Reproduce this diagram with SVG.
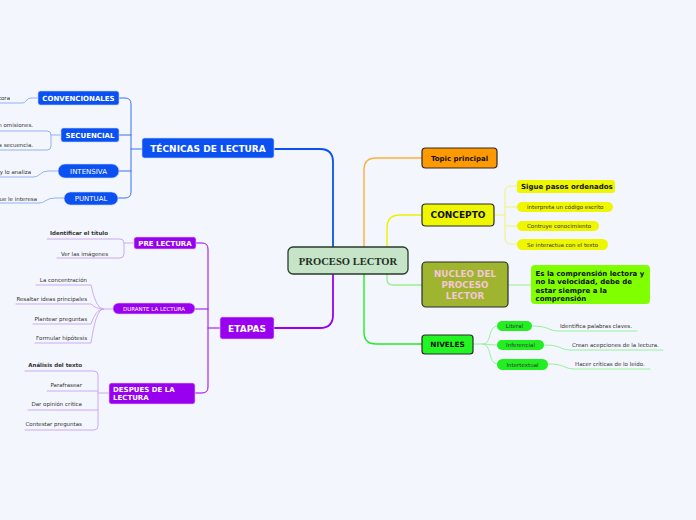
<svg xmlns="http://www.w3.org/2000/svg" width="696" height="520" viewBox="0 0 696 520">
<style>
text{font-family:"DejaVu Sans",Verdana,sans-serif}
.b{font-weight:bold}
.w{fill:#fff}
.k{fill:#111}
.leaf{fill:#333;font-size:5.5px}
.ln{fill:none;stroke-linecap:round;stroke-linejoin:round}
.dk{stroke:#2b2b2b;stroke-width:1.2}
</style>
<rect width="696" height="520" fill="#f3f6fd"/>
<g id="connectors" class="ln">
  <path d="M333 247V162Q333 149 320 149H275" stroke="#0b50f0" stroke-width="1.8"/>
  <path d="M333 274V315Q333 328 320 328H274" stroke="#9900ef" stroke-width="1.8"/>
  <path d="M364 247V170Q364 158 376 158H422" stroke="#ffae3a" stroke-width="1.4"/>
  <path d="M387 247V228Q387 215 400 215H422" stroke="#eef000" stroke-width="1.4"/>
  <path d="M387 274V279Q387 285 393 285H422" stroke="#9cee8c" stroke-width="1.4"/>
  <path d="M364 274V332Q364 344 376 344H422" stroke="#22ee22" stroke-width="1.4"/>
  <g stroke="#3a70f2" stroke-width="1">
    <path d="M142 149H131M119 98H125Q131 98 131 104V192Q131 198 125 198H118M119 135H131M119 171H131"/>
  </g>
  <g stroke="#8aa8f5" stroke-width="0.9">
    <path d="M38 98H31Q28 98 26 101Q25 103 22 103H0"/>
    <path d="M0 131H47Q51 131 51 135V146Q51 150 47 150H0M51 135H61"/>
    <path d="M58 171H48Q43 171 39 175Q37 177 33 177H0"/>
    <path d="M64 198H55Q49 198 45 201Q43 203 39 203H0"/>
  </g>
  <g stroke="#9900ef" stroke-width="1">
    <path d="M220 328H208M196 243H202Q208 243 208 249V387Q208 393 202 393H195M195 309H208"/>
  </g>
  <g stroke="#c9a2f4" stroke-width="0.9">
    <path d="M134 243H124M47 239H120Q124 239 124 243V254Q124 258 120 258H57"/>
    <path d="M113 309H103"/>
    <path d="M103 309Q96 309 91 285H36"/>
    <path d="M103 309Q96 309 91 304H16"/>
    <path d="M103 309Q96 309 91 324H33"/>
    <path d="M103 309Q96 309 91 343H35"/>
    <path d="M109 393H98M25 371H94Q98 371 98 375V426Q98 430 94 430H25M47 391H98M28 410H98"/>
  </g>
  <g stroke="#f2f27a" stroke-width="1">
    <path d="M494 215H505M517 186H511Q505 186 505 192V238Q505 244 511 244H517M505 207H517M505 226H517"/>
  </g>
  <path d="M508 285H531" stroke="#9cee8c" stroke-width="1"/>
  <g stroke="#8ff08f" stroke-width="0.9">
    <path d="M473 344H483Q488 344 490 335Q492 326 497 326"/>
    <path d="M483 344Q490 345 497 345"/>
    <path d="M483 344Q488 344 490 354Q492 364 497 364"/>
    <path d="M532 326Q544 326 549 329Q553 331 558 331H637"/>
    <path d="M544 345Q556 345 561 348Q565 350 570 350H663"/>
    <path d="M548 364Q560 364 565 367Q569 369 574 369H650"/>
  </g>
</g>
<g id="center">
  <rect x="288" y="247" width="120" height="27" rx="5" fill="#c6e4c8" stroke="#2a3a2c" stroke-width="1.3"/>
  <text x="348" y="264.5" text-anchor="middle" font-family="'Liberation Serif',serif" style="font-family:'Liberation Serif',serif" font-size="10.6" font-weight="bold" fill="#1d2e1f">PROCESO LECTOR</text>
</g>
<g id="tecnicas">
  <rect x="142" y="138" width="132" height="20" rx="2.5" fill="#0b50f0" stroke="#c8d6fb" stroke-width="0.6"/>
  <text x="208" y="151.5" text-anchor="middle" class="b w" font-size="9">TÉCNICAS DE LECTURA</text>
</g>
<g id="convencionales">
  <rect x="38" y="91" width="81" height="14" rx="2.5" fill="#0b50f0" stroke="#c8d6fb" stroke-width="0.6"/>
  <text x="78.5" y="100.5" text-anchor="middle" class="b w" font-size="7">CONVENCIONALES</text>
  <text x="10" y="100" text-anchor="end" class="leaf">tora</text>
</g>
<g id="secuencial">
  <rect x="61" y="128" width="58" height="14" rx="2.5" fill="#0b50f0" stroke="#c8d6fb" stroke-width="0.6"/>
  <text x="90" y="137.5" text-anchor="middle" class="b w" font-size="7">SECUENCIAL</text>
  <text x="33" y="127" text-anchor="end" class="leaf">n omisiones.</text>
  <text x="33" y="147" text-anchor="end" class="leaf">a secuencia.</text>
</g>
<g id="intensiva">
  <rect x="58" y="164" width="61" height="14" rx="7" fill="#0b50f0" stroke="#c8d6fb" stroke-width="0.6"/>
  <text x="88.5" y="173.5" text-anchor="middle" class="w" font-size="7">INTENSIVA</text>
  <text x="31" y="174" text-anchor="end" class="leaf">y lo analiza</text>
</g>
<g id="puntual">
  <rect x="64" y="192" width="54" height="13" rx="6.5" fill="#0b50f0" stroke="#c8d6fb" stroke-width="0.6"/>
  <text x="91" y="201" text-anchor="middle" class="w" font-size="7">PUNTUAL</text>
  <text x="37" y="201" text-anchor="end" class="leaf">ue le interesa</text>
</g>
<g id="etapas">
  <rect x="220" y="317" width="54" height="22" rx="2.5" fill="#9900ef" stroke="#e2c6fb" stroke-width="0.6"/>
  <text x="247" y="331.5" text-anchor="middle" class="b w" font-size="9">ETAPAS</text>
</g>
<g id="prelectura">
  <rect x="134" y="237" width="62" height="12" rx="2.5" fill="#9900ef" stroke="#e2c6fb" stroke-width="0.6"/>
  <text x="165" y="245.5" text-anchor="middle" class="b w" font-size="7">PRE LECTURA</text>
  <text x="108" y="235" text-anchor="end" class="leaf b" fill="#111">Identificar el título</text>
  <text x="108" y="256" text-anchor="end" class="leaf">Ver las imágenes</text>
</g>
<g id="durante">
  <rect x="113" y="303" width="82" height="11" rx="5.5" fill="#9900ef" stroke="#e2c6fb" stroke-width="0.6"/>
  <text x="154" y="310.8" text-anchor="middle" class="w" font-size="5.5">DURANTE LA LECTURA</text>
  <text x="87" y="282" text-anchor="end" class="leaf">La concentración</text>
  <text x="87" y="301" text-anchor="end" class="leaf">Resaltar ideas principales</text>
  <text x="87" y="321" text-anchor="end" class="leaf">Plantear preguntas</text>
  <text x="87" y="340" text-anchor="end" class="leaf">Formular hipótesis</text>
</g>
<g id="despues">
  <rect x="109" y="383" width="86" height="21" rx="2.5" fill="#9900ef" stroke="#e2c6fb" stroke-width="0.6"/>
  <text x="113" y="391.5" class="b w" font-size="7">DESPUES DE LA</text>
  <text x="113" y="400" class="b w" font-size="7">LECTURA</text>
  <text x="82" y="367" text-anchor="end" class="leaf b" fill="#111">Análisis del texto</text>
  <text x="82" y="387" text-anchor="end" class="leaf">Parafrasear</text>
  <text x="82" y="406" text-anchor="end" class="leaf">Dar opinión crítica</text>
  <text x="82" y="426" text-anchor="end" class="leaf">Contestar preguntas</text>
</g>
<g id="topic">
  <rect x="422" y="148" width="75" height="20" rx="3.5" fill="#ff9900" class="dk"/>
  <text x="459.5" y="160.5" text-anchor="middle" class="b k" font-size="7">Topic principal</text>
</g>
<g id="concepto">
  <rect x="422" y="204" width="72" height="22" rx="3.5" fill="#eef600" class="dk"/>
  <text x="458" y="218.3" text-anchor="middle" class="b k" font-size="9">CONCEPTO</text>
</g>
<g id="sigue">
  <rect x="517" y="180" width="98" height="13" rx="3" fill="#eef600"/>
  <text x="521" y="189" class="b k" font-size="7">Sigue pasos ordenados</text>
</g>
<g id="interpreta">
  <rect x="517" y="202" width="96" height="10" rx="5" fill="#eef600"/>
  <text x="527" y="209" class="leaf">interpreta un código escrito</text>
</g>
<g id="contruye">
  <rect x="517" y="221" width="82" height="10" rx="5" fill="#eef600"/>
  <text x="527" y="228" class="leaf">Contruye conocimiento</text>
</g>
<g id="interactua">
  <rect x="517" y="239" width="91" height="11" rx="5.5" fill="#eef600"/>
  <text x="527" y="246.5" class="leaf">Se interactua con el texto</text>
</g>
<g id="nucleo">
  <rect x="422" y="262" width="86" height="45" rx="4" fill="#9fb42f" class="dk"/>
  <text x="465" y="277" text-anchor="middle" class="b" font-size="8.8" fill="#f5c6d8">NUCLEO DEL</text>
  <text x="465" y="288" text-anchor="middle" class="b" font-size="8.8" fill="#f5c6d8">PROCESO</text>
  <text x="465" y="299" text-anchor="middle" class="b" font-size="8.8" fill="#f5c6d8">LECTOR</text>
</g>
<g id="nucleo-desc">
  <rect x="531" y="265" width="119" height="39" rx="4" fill="#80ff00"/>
  <text class="b k" font-size="7"><tspan x="535.5" y="275.5">Es la comprensión lectora y</tspan><tspan x="535.5" y="283.5">no la velocidad, debe de</tspan><tspan x="535.5" y="292.5">estar siempre a la</tspan><tspan x="535.5" y="300.5">comprensión</tspan></text>
</g>
<g id="niveles">
  <rect x="422" y="335" width="51" height="19" rx="3" fill="#22f522" class="dk"/>
  <text x="447.5" y="347.3" text-anchor="middle" class="b k" font-size="7.3">NIVELES</text>
</g>
<g id="literal">
  <rect x="497" y="321" width="35" height="10" rx="5" fill="#22ee22"/>
  <text x="514.5" y="328" text-anchor="middle" class="leaf" fill="#111">Literal</text>
  <text x="560" y="328" class="leaf">Identifica palabras claves.</text>
</g>
<g id="inferencial">
  <rect x="497" y="340" width="47" height="10" rx="5" fill="#22ee22"/>
  <text x="520.5" y="347" text-anchor="middle" class="leaf" fill="#111">Inferencial</text>
  <text x="572" y="347" class="leaf">Crean acepciones de la lectura.</text>
</g>
<g id="intertextual">
  <rect x="497" y="359" width="51" height="11" rx="5.5" fill="#22ee22"/>
  <text x="522.5" y="366.5" text-anchor="middle" class="leaf" fill="#111">Intertextual</text>
  <text x="575" y="366" class="leaf">Hacer críticas de lo leído.</text>
</g>
</svg>
